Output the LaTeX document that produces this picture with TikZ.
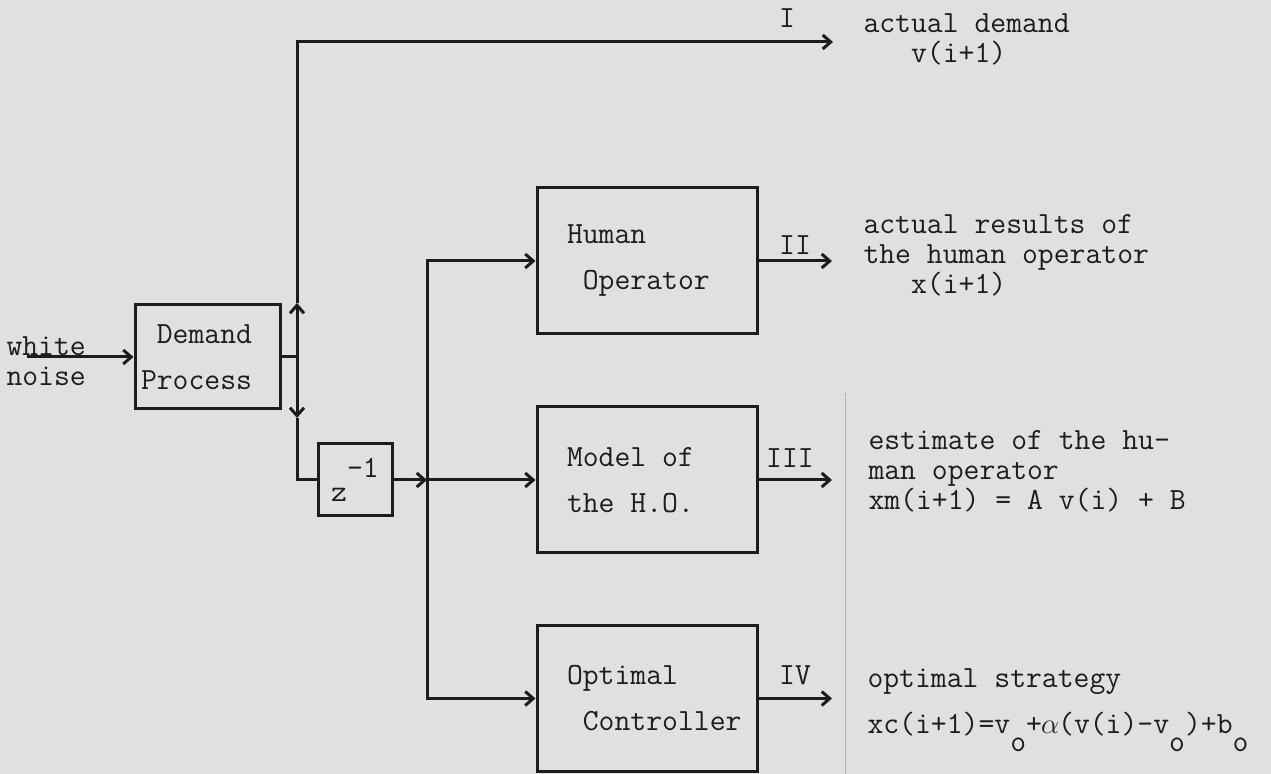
\documentclass[tikz,border=0pt]{standalone}
\usepackage{fontspec}
\usetikzlibrary{arrows.meta}
\definecolor{paper}{RGB}{224,224,222}
\definecolor{ink}{RGB}{28,28,28}
\newcommand{\tw}{\ttfamily\fontsize{15.4}{15}\selectfont}
\newcommand{\boxfont}{\ttfamily\fontsize{15.4}{23}\selectfont}
\newcommand{\ind}{\hspace*{12pt}}
\newcommand{\dn}[1]{\raisebox{-0.6em}{#1}}
\begin{document}
\begin{tikzpicture}[x=0.5pt,y=-0.5pt,>={Straight Barb[length=4pt,width=7pt]},line width=1.5pt,color=ink,
	blk/.style={draw,align=flush left,font=\boxfont,inner xsep=3pt,text width=104pt,minimum height=73pt},
	lbl/.style={font=\tw,align=left,anchor=west,inner sep=0pt},
	num/.style={font=\tw,inner sep=0pt}]
	\fill[paper] (0,0) rectangle (1271,774);
	\useasboundingbox (0,0) rectangle (1271,774);
	% blocks
	\node[blk,text width=66.5pt,minimum height=52pt] (demand) at (207.5,357) {\phantom{D}Demand\\Process};
	\node[draw,font=\tw,minimum width=37pt,minimum height=36pt,inner sep=0pt] (delay) at (355,480) {z\raisebox{0.8em}{-1}};
	\node[blk] (hop) at (647,261) {\ind Human\\\ind\phantom{H}Operator};
	\node[blk] (model) at (647,480) {\ind Model of\\\ind the H.O.};
	\node[blk] (ctrl) at (647,698.5) {\ind Optimal\\\ind\phantom{O}Controller};
	% points on the lines
	\coordinate (nin) at (27,357);
	\coordinate (split) at (297,357);
	\coordinate (up) at (297,303);
	\coordinate (down) at (297,418);
	\coordinate (bus) at (427,480);
	\coordinate (tipI) at (833,42);
	\coordinate (tipII) at (832,261);
	\coordinate (tipIII) at (832,480);
	\coordinate (tipIV) at (832,698.5);
	% input side
	\node[lbl] (noise) at (5,361) {white\\noise};
	\draw[->] (nin) -- (demand.west);
	\draw (demand.east) -- (split);
	\draw[->] (split) -- (up);
	\draw[->] (up) |- (tipI);
	\draw[->] (split) -- (down);
	\draw (down) |- (delay.west);
	\draw[->] (delay.east) -- (bus);
	\draw[->] (bus) |- (hop.west);
	\draw[->] (bus) -- (model.west);
	\draw[->] (bus) |- (ctrl.west);
	% outputs
	\draw[->] (hop.east) -- (tipII);
	\draw[->] (model.east) -- (tipIII);
	\draw[->] (ctrl.east) -- (tipIV);
	\node[num] (lI) at (787,18) {I};
	\node[num] (lII) at (795,245) {II};
	\node[num] (lIII) at (790,458) {III};
	\node[num] (lIV) at (795,675) {IV};
	\draw[line width=0.5pt,gray!60] (845,393) -- (845,774);
	\node[lbl] (demandtxt) at (862,39) {actual demand\\\phantom{act}v(i+1)};
	\node[lbl] (hotxt) at (862,255) {actual results of\\the human operator\\\phantom{act}x(i+1)};
	\node[lbl] (modeltxt) at (867,471) {estimate of the hu-\\man operator\\xm(i+1) = A v(i) + B};
	\node[lbl] (ctrltxt) at (866,710) {optimal strategy\\[8pt]xc(i+1)=v\dn{o}+\makebox[0.525em]{$\alpha$}(v(i)-v\dn{o})+b\dn{o}};
\end{tikzpicture}
\end{document}
